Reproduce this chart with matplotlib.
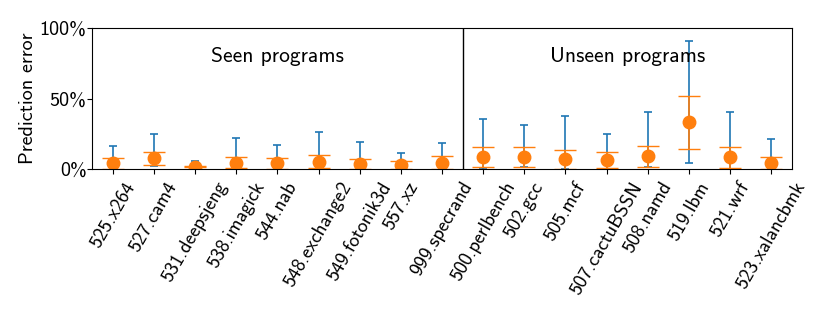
import numpy as np
import matplotlib
matplotlib.use('Agg')
import matplotlib.pyplot as plt

plt.rcParams['font.family'] = ['cmss10', 'DejaVu Sans']
plt.rcParams['axes.unicode_minus'] = False

programs = ['525.x264', '527.cam4', '531.deepsjeng', '538.imagick', '544.nab',
            '548.exchange2', '549.fotonik3d', '557.xz', '999.specrand',
            '500.perlbench', '502.gcc', '505.mcf', '507.cactuBSSN', '508.namd',
            '519.lbm', '521.wrf', '523.xalancbmk']
n_seen = 9

# 预测误差统计 (%)
err_mean = [4.0, 7.6, 1.7, 4.5, 4.0, 5.2, 3.5, 2.8, 4.5,
            8.5, 8.7, 6.9, 6.4, 9.0, 33.1, 8.5, 4.5]
err_std = [4.0, 4.5, 0.5, 4.0, 3.8, 4.5, 3.4, 2.6, 4.5,
           7.3, 7.1, 7.0, 5.4, 7.5, 19.0, 7.5, 4.2]
err_min = [0.0, 2.5, 0.0, 0.0, 0.0, 0.0, 0.0, 0.0, 0.0,
           0.0, 1.6, 0.0, 0.0, 1.6, 4.3, 0.0, 0.0]
err_max = [16.5, 24.6, 5.7, 22.2, 17.0, 26.5, 19.4, 11.6, 18.2,
           35.2, 31.0, 38.0, 24.6, 40.4, 91.0, 40.4, 21.7]

x = np.arange(len(programs))
mean = np.array(err_mean)
lo = mean - np.array(err_min)
hi = np.array(err_max) - mean

fig = plt.figure(figsize=(8.3, 3.12), dpi=100)
ax = fig.add_axes([0.111, 0.458, 0.843, 0.452])

# 蓝色: 最小值~最大值, 橙色: 平均值±标准差
ax.errorbar(x, mean, yerr=[lo, hi], fmt='none', ecolor='tab:blue',
            elinewidth=1.2, capsize=3, capthick=1.2)
ax.errorbar(x, mean, yerr=err_std, fmt='o', color='tab:orange',
            ecolor='tab:orange', elinewidth=1.2, capsize=8, capthick=1.0,
            markersize=9)

ax.axvline(n_seen - 0.5, color='black', linewidth=1)
ax.text((n_seen - 1) / 2, 80, 'Seen programs', ha='center', va='center', fontsize=15.5)
ax.text(n_seen + (len(programs) - n_seen - 1) / 2, 80, 'Unseen programs',
        ha='center', va='center', fontsize=15.5)

ax.set_xlim(-0.5, len(programs) - 0.5)
ax.set_ylim(0, 100)
ax.set_yticks([0, 50, 100])
ax.set_yticklabels(['0%', '50%', '100%'], fontsize=14.5)
ax.tick_params(axis='y', pad=0.5)
ax.set_xticks(x)
ax.set_xticklabels(programs, rotation=60, fontsize=14)
ax.set_ylabel('Prediction error', fontsize=14.5, labelpad=2)

plt.savefig('out.png', dpi=100)
